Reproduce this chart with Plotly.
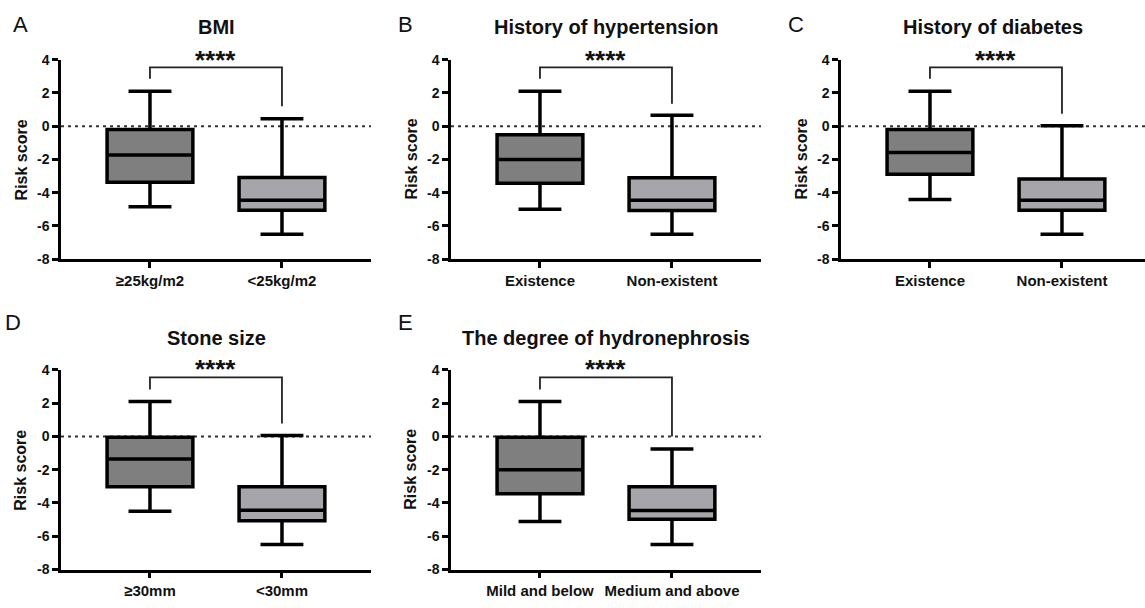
import plotly.graph_objects as go

# ---------------- data ----------------
titles = ["BMI", "History of hypertension", "History of diabetes", "Stone size",
          "The degree of hydronephrosis"]
letters = ["A", "B", "C", "D", "E"]
cat_labels = [
    ["≥25kg/m2", "&lt;25kg/m2"],
    ["Existence", "Non-existent"],
    ["Existence", "Non-existent"],
    ["≥30mm", "&lt;30mm"],
    ["Mild and below", "Medium and above"],
]
upper = [[2.1, 0.45], [2.1, 0.65], [2.1, 0.02], [2.1, 0.05], [2.1, -0.75]]
q3 = [[-0.2, -3.08], [-0.52, -3.1], [-0.2, -3.18], [-0.05, -3.03], [-0.05, -3.03]]
median = [[-1.74, -4.45], [-2.0, -4.45], [-1.58, -4.45], [-1.36, -4.43], [-2.0, -4.45]]
q1 = [[-3.38, -5.05], [-3.43, -5.07], [-2.89, -5.06], [-3.03, -5.07], [-3.45, -4.98]]
lower = [[-4.84, -6.5], [-5.0, -6.5], [-4.41, -6.5], [-4.49, -6.5], [-5.12, -6.5]]
bracket_top = [3.53, 3.53, 3.53, 3.55, 3.55]
bracket_left_end = [2.85, 2.85, 2.85, 2.83, 2.83]
bracket_right_end = [1.2, 1.35, 0.75, 0.78, 0.0]
sig_label = "****"
y_ticks = [-8, -6, -4, -2, 0, 2, 4]

# ---------------- layout geometry ----------------
W, H = 1145, 608
col_px = [(61, 371), (451, 761), (841, 1145)]
row_px = [(53, 258), (371.7, 576.7)]
panel_pos = [(0, 0), (0, 1), (0, 2), (1, 0), (1, 1)]
px_per_unit = 132.0
x_left = -0.674

box_colors = ["#7f7f7f", "#a6a6aa"]
FONT = "Liberation Sans, Arial, sans-serif"
TXT = "#111111"

fig = go.Figure()
layout = dict(
    width=W, height=H, margin=dict(l=0, r=0, t=0, b=0),
    paper_bgcolor="white", plot_bgcolor="white", showlegend=False,
    font=dict(family=FONT, color="black"),
)
annotations = []
shapes = []

for i in range(5):
    k = i + 1
    r, c = panel_pos[i]
    x0p, x1p = col_px[c]
    y0p, y1p = row_px[r]
    xd = [x0p / W, min(x1p / W, 1.0)]
    yd = [1 - y1p / H, 1 - y0p / H]
    x_right = x_left + (x1p - x0p) / px_per_unit
    xa = "x" if k == 1 else f"x{k}"
    ya = "y" if k == 1 else f"y{k}"

    layout[f"xaxis{k}"] = dict(
        domain=xd, range=[x_left, x_right], anchor=ya,
        tickvals=[0, 1], ticktext=cat_labels[i], tickangle=0,
        showline=True, linewidth=2.5, linecolor="black",
        ticks="outside", ticklen=6, tickwidth=2.5, tickcolor="black",
        tickfont=dict(size=15, family=FONT, weight="bold", color=TXT),
        showgrid=False, zeroline=False, fixedrange=True,
    )
    layout[f"yaxis{k}"] = dict(
        domain=yd, range=[-8, 4], anchor=xa,
        tickvals=y_ticks, ticktext=[str(t) for t in y_ticks],
        showline=True, linewidth=2.5, linecolor="black",
        ticks="outside", ticklen=6, tickwidth=2.5, tickcolor="black",
        tickfont=dict(size=14, family=FONT, weight="bold", color=TXT),
        showgrid=False, zeroline=False, fixedrange=True,
    )

    # dotted zero line
    shapes.append(dict(
        type="line", xref=f"{xa} domain", yref=ya, x0=0, x1=1, y0=0, y1=0,
        line=dict(color="#333333", width=2, dash="3px,4px"), layer="below",
    ))

    for j in range(2):
        fig.add_trace(go.Box(
            x=[j], q1=[q1[i][j]], median=[median[i][j]], q3=[q3[i][j]],
            lowerfence=[lower[i][j]], upperfence=[upper[i][j]],
            orientation="v", width=0.65, whiskerwidth=0.5,
            fillcolor=box_colors[j], line=dict(color="black", width=3.5),
            boxpoints=False, xaxis=xa, yaxis=ya, showlegend=False,
            hoverinfo="skip",
        ))

    # significance bracket
    fig.add_trace(go.Scatter(
        x=[0, 0, 1, 1],
        y=[bracket_left_end[i], bracket_top[i], bracket_top[i], bracket_right_end[i]],
        mode="lines", line=dict(color="#222222", width=1.8),
        xaxis=xa, yaxis=ya, showlegend=False, hoverinfo="skip", cliponaxis=False,
    ))
    star_px = (47 if r == 0 else 365) + 6
    annotations.append(dict(
        x=0.5, y=1 - star_px / H, xref=xa, yref="paper", text=sig_label,
        showarrow=False, xanchor="center", yanchor="middle",
        font=dict(size=26, family=FONT, weight="bold", color=TXT),
    ))

    # panel title
    title_y = 20 if r == 0 else 339
    annotations.append(dict(
        x=(x0p + x0p + (x_right - x_left) * px_per_unit) / 2 / W, y=1 - title_y / H,
        xref="paper", yref="paper", text=titles[i], showarrow=False,
        xanchor="center", yanchor="middle",
        font=dict(size=20, family=FONT, weight="bold", color=TXT),
    ))
    # panel letter
    letter_x = [11, 396, 786][c] if r == 0 else [3, 396, 0][c]
    letter_y = 17 if r == 0 else 323
    annotations.append(dict(
        x=letter_x / W, y=1 - letter_y / H, xref="paper", yref="paper",
        text=letters[i], showarrow=False, xanchor="left", yanchor="middle",
        font=dict(size=22, family=FONT, color=TXT),
    ))
    # y axis title
    annotations.append(dict(
        x=(x0p - 40) / W, y=1 - (y0p + y1p) / 2 / H, xref="paper", yref="paper",
        text="Risk score", textangle=-90, showarrow=False,
        xanchor="center", yanchor="middle",
        font=dict(size=16, family=FONT, weight="bold", color=TXT),
    ))

layout["annotations"] = annotations
layout["shapes"] = shapes
fig.update_layout(**layout)
fig.write_html("out.html", config={"displayModeBar": False},
               post_script="document.body.style.margin='0';")
